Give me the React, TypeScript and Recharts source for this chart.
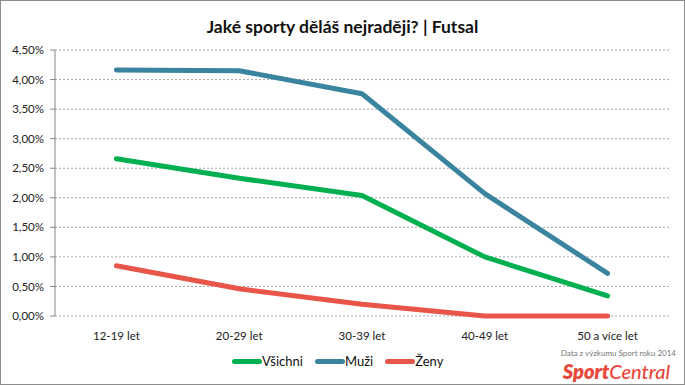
import { CartesianGrid, Line, LineChart, XAxis, YAxis } from "recharts";

const categories = ["12-19 let", "20-29 let", "30-39 let", "40-49 let", "50 a více let"];
const vsichni = [2.66, 2.33, 2.04, 1.0, 0.34];
const muzi = [4.16, 4.15, 3.76, 2.07, 0.72];
const zeny = [0.85, 0.46, 0.2, 0.0, 0.0];
const yTicks = [0, 0.5, 1, 1.5, 2, 2.5, 3, 3.5, 4, 4.5];
const boundaryTicks = [0, 1, 2, 3, 4, 5];

const series = [
  { key: "vsichni", name: "Všichni", color: "#00b050" },
  { key: "muzi", name: "Muži", color: "#3b84a0" },
  { key: "zeny", name: "Ženy", color: "#e8564a" },
];

const data = categories.map((c, i) => ({
  cat: c,
  pos: i + 0.5,
  vsichni: vsichni[i],
  muzi: muzi[i],
  zeny: zeny[i],
}));

const font = "Lato, 'Open Sans', sans-serif";
const axisColor = "#868686";

const fmt = (v: number) => v.toFixed(2).replace(".", ",") + "%";

export default function App() {
  return (
    <div style={{ position: "fixed", left: 0, top: 0, width: 685, height: 385, background: "#fff", fontFamily: font }}>
      <div
        style={{
          position: "absolute",
          left: 0,
          top: 17,
          width: 685,
          textAlign: "center",
          fontSize: 17.5,
          fontWeight: 700,
          color: "#111",
          lineHeight: "20px",
        }}
      >
        Jaké sporty děláš nejraději? | Futsal
      </div>
      <div style={{ position: "absolute", left: 0, top: 0 }}>
        <LineChart width={685} height={385} data={data} margin={{ top: 50, right: 16, left: 0, bottom: 0 }}>
          <CartesianGrid vertical={false} stroke="#a6a6a6" strokeDasharray="2 2" />
          <XAxis
            xAxisId="b"
            type="number"
            dataKey="pos"
            domain={[0, 5]}
            allowDataOverflow
            ticks={boundaryTicks}
            height={0}
            tick={() => <g />}
            tickSize={5}
            stroke={axisColor}
          />
          <XAxis
            dataKey="cat"
            scale="band"
            height={69}
            axisLine={false}
            tickLine={false}
            tickMargin={10}
            interval={0}
            tick={{ fill: "#222", fontSize: 11.5, fontFamily: font }}
          />
          <YAxis
            width={55}
            domain={[0, 4.5]}
            ticks={yTicks}
            tickFormatter={fmt}
            stroke={axisColor}
            tickSize={5}
            tickMargin={6}
            tick={{ fill: "#222", fontSize: 11.5, fontFamily: font }}
          />
          {series.map((s) => (
            <Line
              key={s.key}
              type="linear"
              dataKey={s.key}
              name={s.name}
              stroke={s.color}
              strokeWidth={5}
              strokeLinecap="round"
              strokeLinejoin="round"
              dot={false}
              activeDot={false}
              isAnimationActive={false}
            />
          ))}
        </LineChart>
      </div>
      <div style={{ position: "absolute", left: 232, top: 353, display: "flex", alignItems: "center", fontSize: 13, color: "#111" }}>
        {series.map((s) => (
          <div key={s.key} style={{ display: "flex", alignItems: "center", marginRight: 12 }}>
            <div style={{ width: 30, height: 5, borderRadius: 3, background: s.color }} />
            <span>{s.name}</span>
          </div>
        ))}
      </div>
      <div
        style={{
          position: "absolute",
          left: 548,
          top: 348,
          width: 128,
          textAlign: "right",
          fontSize: 8,
          lineHeight: "10px",
          color: "#777",
        }}
      >
        Data z výzkumu Sport roku 2014
      </div>
      <div
        style={{
          position: "absolute",
          left: 530,
          top: 360,
          width: 140,
          textAlign: "right",
          fontSize: 20,
          fontStyle: "italic",
          color: "#e8473a",
          lineHeight: "22px",
        }}
      >
        <span style={{ fontWeight: 800 }}>Sport</span>
        <span style={{ fontWeight: 500 }}>Central</span>
      </div>
      <div style={{ position: "absolute", inset: 0, border: "1px solid #8c8c8c", boxSizing: "border-box", pointerEvents: "none" }} />
    </div>
  );
}
